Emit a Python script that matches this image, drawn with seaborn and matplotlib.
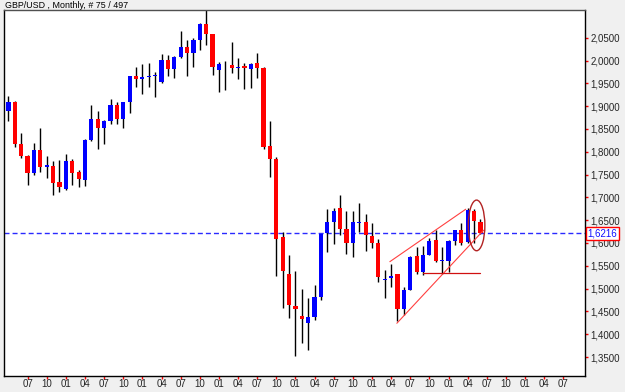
import matplotlib
matplotlib.use("Agg")
import matplotlib.pyplot as plt
from matplotlib.patches import Ellipse
from matplotlib.ticker import FuncFormatter
import seaborn as sns
import numpy as np

# GBP/USD monthly candles, Apr 2005 .. Jun 2011 (75 bars)
opens = [1.890, 1.910, 1.817, 1.791, 1.754, 1.804, 1.766, 1.769, 1.734, 1.718,
         1.780, 1.755, 1.738, 1.826, 1.872, 1.851, 1.868, 1.902, 1.872, 1.908,
         1.966, 1.960, 1.964, 1.965, 1.952, 2.001, 1.981, 2.008, 2.029, 2.017,
         2.046, 2.080, 2.057, 1.979, 1.989, 1.990, 1.983, 1.989, 1.981, 1.995,
         1.983, 1.813, 1.784, 1.613, 1.532, 1.462, 1.440, 1.425, 1.437, 1.481,
         1.621, 1.647, 1.676, 1.630, 1.601, 1.643, 1.645, 1.615, 1.599, 1.519,
         1.523, 1.532, 1.455, 1.497, 1.571, 1.537, 1.573, 1.606, 1.560, 1.561,
         1.605, 1.628, 1.603, 1.671, 1.647]
highs = [1.922, 1.912, 1.842, 1.793, 1.819, 1.851, 1.791, 1.780, 1.782, 1.795,
         1.783, 1.760, 1.827, 1.902, 1.889, 1.870, 1.916, 1.910, 1.910, 1.967,
         1.986, 1.992, 1.995, 1.974, 2.014, 2.012, 2.010, 2.065, 2.046, 2.050,
         2.083, 2.116, 2.058, 1.997, 1.999, 2.041, 2.006, 1.994, 1.995, 2.017,
         1.986, 1.868, 1.789, 1.623, 1.574, 1.539, 1.499, 1.479, 1.508, 1.619,
         1.674, 1.676, 1.705, 1.669, 1.669, 1.688, 1.664, 1.644, 1.608, 1.541,
         1.555, 1.533, 1.504, 1.571, 1.592, 1.593, 1.612, 1.628, 1.591, 1.606,
         1.629, 1.643, 1.676, 1.674, 1.652]
lows = [1.868, 1.810, 1.786, 1.726, 1.750, 1.756, 1.742, 1.705, 1.711, 1.716,
        1.727, 1.723, 1.725, 1.824, 1.807, 1.817, 1.861, 1.861, 1.851, 1.884,
        1.943, 1.926, 1.941, 1.919, 1.950, 1.966, 1.961, 2.005, 1.965, 1.986,
        2.023, 2.034, 1.968, 1.932, 1.935, 1.972, 1.959, 1.937, 1.939, 1.961,
        1.805, 1.744, 1.528, 1.457, 1.435, 1.352, 1.380, 1.366, 1.431, 1.475,
        1.580, 1.598, 1.617, 1.576, 1.570, 1.623, 1.583, 1.588, 1.515, 1.479,
        1.504, 1.430, 1.442, 1.496, 1.533, 1.530, 1.573, 1.559, 1.533, 1.537,
        1.595, 1.595, 1.600, 1.600, 1.619]
closes = [1.910, 1.817, 1.791, 1.754, 1.804, 1.766, 1.770, 1.732, 1.722, 1.780,
          1.754, 1.740, 1.826, 1.872, 1.851, 1.868, 1.902, 1.872, 1.908, 1.966,
          1.960, 1.964, 1.964, 1.968, 2.001, 1.981, 2.007, 2.029, 2.017, 2.045,
          2.080, 2.057, 1.986, 1.992, 1.987, 1.984, 1.985, 1.983, 1.992, 1.983,
          1.811, 1.784, 1.608, 1.539, 1.463, 1.455, 1.433, 1.438, 1.481, 1.619,
          1.647, 1.671, 1.630, 1.601, 1.645, 1.645, 1.617, 1.601, 1.526, 1.521,
          1.528, 1.455, 1.497, 1.570, 1.537, 1.573, 1.604, 1.560, 1.563, 1.605,
          1.628, 1.601, 1.672, 1.649, 1.6216]

month_ticks = ["07", "10", "01", "04"] * 7 + ["07"]
price_ticks = [1.35, 1.40, 1.45, 1.50, 1.55, 1.60, 1.65, 1.70, 1.75,
               1.80, 1.85, 1.90, 1.95, 2.00, 2.05]
last_price = 1.6216

# hand-drawn wedge, support and ellipse (bar index, price)
upper_line = ([59.8, 71.7], [1.559, 1.674])
lower_line = ([60.9, 74.5], [1.424, 1.628])
support_line = ([65.0, 74.0], [1.535, 1.535])

sns.set_style("white")
plt.rcParams["font.family"] = ["Liberation Sans", "DejaVu Sans"]

fig = plt.figure(figsize=(6.25, 3.92), dpi=100, facecolor="#f0f0f0")
ax = fig.add_axes([4 / 625, 16 / 392, 581 / 625, 366 / 392])
ax.set_facecolor("white")

idx = np.arange(len(opens))
o = np.array(opens)
c = np.array(closes)
colors = np.where(c >= o, "#0000ff", "#ff0000")
body_low = np.minimum(o, c)
body_h = np.maximum(np.abs(c - o), 0.0018)

ax.vlines(idx, lows, highs, color="black", lw=1, zorder=2)
ax.bar(idx, body_h, bottom=body_low, width=0.66, color=colors, linewidth=0, zorder=3)

ax.axhline(last_price, color="#2a2aff", lw=1, dashes=(3.6, 2.2), zorder=1)
ax.plot(*upper_line, color="#ff4040", lw=0.8, zorder=4)
ax.plot(*lower_line, color="#ff4040", lw=0.8, zorder=4)
ax.plot(*support_line, color="#d01010", lw=0.9, zorder=4)
ax.add_patch(Ellipse((73.4, 1.6385), width=2.6, height=0.111, fill=False,
                     edgecolor="#b22222", lw=1, zorder=5))

ax.set_xlim(-0.7, 90.4)
ax.set_ylim(1.3084, 2.1107)

ax.set_xticks(np.arange(3, 3 + 3 * len(month_ticks), 3))
ax.set_xticklabels(month_ticks)
ax.yaxis.tick_right()
ax.set_yticks(price_ticks)
ax.yaxis.set_major_formatter(FuncFormatter(lambda v, p: f"{v:.4f}".replace(".", ",")))
ax.tick_params(axis="both", which="both", color="red", length=2.5, width=1,
               labelsize=7, pad=1.5, direction="out")
ax.tick_params(axis="y", right=True, left=False)
ax.tick_params(axis="x", bottom=True, length=2, pad=0.5)

for s in ax.spines.values():
    s.set_visible(True)
    s.set_color("black")
    s.set_linewidth(1)
ax.spines["top"].set_color("#505050")

ax.text(1.004, last_price, "1,6216", transform=ax.get_yaxis_transform(),
        va="center", ha="left", fontsize=7, color="#1010ff",
        bbox=dict(boxstyle="square,pad=0.15", facecolor="white", edgecolor="red", lw=1))

fig.text(5 / 625, 1 - 5 / 392, "GBP/USD , Monthly, # 75 / 497",
         va="center", ha="left", fontsize=6.4, color="black")

fig.savefig("out.png", dpi=100, facecolor=fig.get_facecolor())
